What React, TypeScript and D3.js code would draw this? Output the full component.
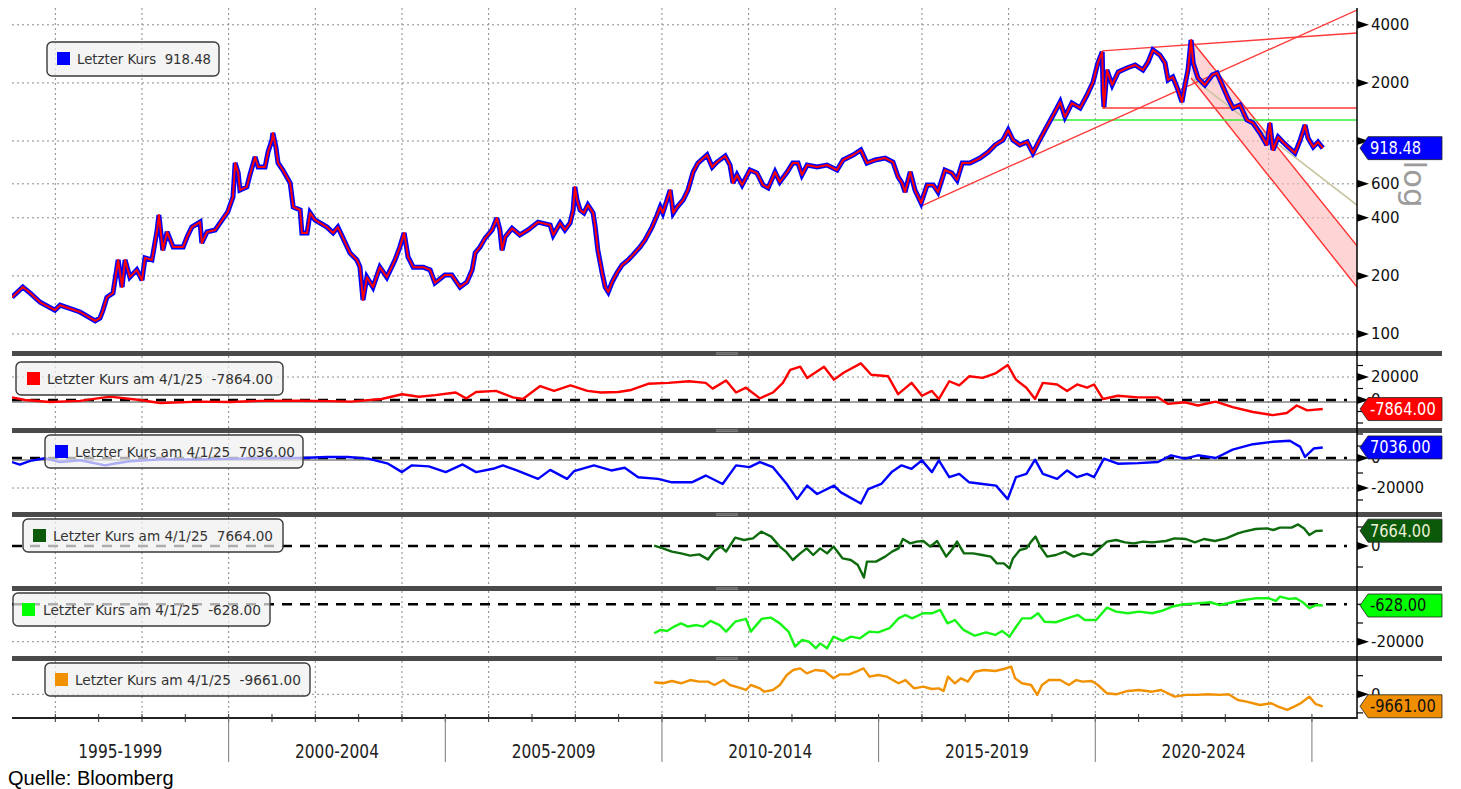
import React from 'react';
import * as d3 from 'd3';

// ---------------- data ----------------
const priceYears = [
  1995.00, 1995.25, 1995.42, 1995.65, 1995.99, 1996.11, 1996.57, 1996.92, 1997.03, 1997.10,
  1997.19, 1997.33, 1997.45, 1997.54, 1997.61, 1997.72, 1997.88, 1998.00, 1998.07, 1998.23,
  1998.35, 1998.39, 1998.48, 1998.58, 1998.72, 1998.95, 1999.04, 1999.15, 1999.34, 1999.38,
  1999.50, 1999.69, 1999.85, 1999.98, 2000.10, 2000.15, 2000.22, 2000.26, 2000.42, 2000.49,
  2000.61, 2000.68, 2000.84, 2000.91, 2001.00, 2001.02, 2001.09, 2001.14, 2001.25, 2001.42,
  2001.49, 2001.65, 2001.69, 2001.81, 2001.88, 2001.99, 2002.27, 2002.41, 2002.52, 2002.64,
  2002.80, 2002.96, 2003.03, 2003.10, 2003.19, 2003.33, 2003.49, 2003.65, 2003.84, 2003.95,
  2004.05, 2004.14, 2004.26, 2004.49, 2004.65, 2004.76, 2004.99, 2005.15, 2005.34, 2005.50,
  2005.62, 2005.69, 2005.80, 2005.92, 2006.08, 2006.19, 2006.26, 2006.31, 2006.38, 2006.54,
  2006.72, 2006.91, 2007.14, 2007.42, 2007.49, 2007.65, 2007.76, 2007.88, 2007.95, 2007.99,
  2008.04, 2008.11, 2008.20, 2008.29, 2008.41, 2008.46, 2008.52, 2008.62, 2008.69, 2008.76,
  2008.85, 2008.96, 2009.08, 2009.22, 2009.33, 2009.49, 2009.61, 2009.77, 2009.89, 2009.96,
  2010.02, 2010.19, 2010.26, 2010.35, 2010.49, 2010.60, 2010.72, 2010.83, 2011.04, 2011.16,
  2011.27, 2011.46, 2011.57, 2011.64, 2011.73, 2011.85, 2012.03, 2012.19, 2012.33, 2012.45,
  2012.61, 2012.72, 2012.89, 2013.02, 2013.14, 2013.23, 2013.35, 2013.58, 2013.81, 2014.04,
  2014.18, 2014.41, 2014.59, 2014.73, 2014.92, 2015.15, 2015.33, 2015.45, 2015.54, 2015.61,
  2015.73, 2015.84, 2015.98, 2016.12, 2016.26, 2016.37, 2016.53, 2016.69, 2016.81, 2016.93,
  2017.11, 2017.34, 2017.53, 2017.69, 2017.87, 2017.99, 2018.10, 2018.26, 2018.43, 2018.56,
  2018.68, 2018.84, 2019.03, 2019.19, 2019.30, 2019.46, 2019.65, 2019.81, 2019.95, 2020.06,
  2020.16, 2020.18, 2020.20, 2020.27, 2020.39, 2020.53, 2020.73, 2020.92, 2021.10, 2021.22,
  2021.33, 2021.49, 2021.61, 2021.68, 2021.79, 2021.91, 2022.00, 2022.07, 2022.14, 2022.21,
  2022.26, 2022.37, 2022.53, 2022.70, 2022.81, 2022.95, 2023.06, 2023.18, 2023.34, 2023.50,
  2023.64, 2023.80, 2023.96, 2024.03, 2024.10, 2024.22, 2024.33, 2024.45, 2024.61, 2024.73,
  2024.84, 2024.91, 2025.03, 2025.14, 2025.25,
];
const priceValues = [
  155, 175, 163, 146, 133, 141, 130, 117, 121, 133,
  155, 163, 242, 175, 242, 197, 215, 190, 248, 242,
  346, 414, 272, 338, 282, 282, 318, 358, 380, 296,
  338, 346, 390, 429, 513, 769, 683, 557, 578, 667,
  826, 733, 733, 877, 1012, 1100, 931, 769, 707, 606,
  455, 439, 334, 334, 424, 390, 358, 334, 358, 314,
  263, 242, 222, 150, 197, 175, 222, 197, 242, 282,
  334, 251, 222, 222, 215, 184, 202, 202, 175, 186,
  215, 263, 282, 314, 346, 399, 346, 272, 318, 353,
  326, 346, 380, 367, 326, 376, 346, 376, 439, 578,
  495, 439, 424, 466, 424, 358, 272, 207, 175, 165,
  186, 207, 228, 242, 257, 282, 307, 358, 414, 455,
  424, 557, 424, 455, 495, 557, 691, 769, 846, 733,
  778, 836, 751, 606, 667, 592, 707, 683, 592, 571,
  691, 613, 691, 769, 769, 667, 751, 733, 751, 707,
  797, 846, 898, 769, 797, 816, 778, 651, 606, 544,
  691, 557, 477, 592, 592, 544, 707, 683, 628, 769,
  769, 816, 877, 954, 1012, 1140, 1012, 954, 988, 866,
  977, 1140, 1363, 1592, 1332, 1573, 1483, 1731, 2022, 2536,
  2892, 1773, 1501, 2333, 1951, 2278, 2389, 2476, 2333, 2567,
  2961, 2790, 2536, 2071, 2146, 1838, 1592, 1951, 2333, 3337,
  2536, 2120, 1951, 2198, 2251, 1905, 1670, 1483, 1537, 1285,
  1240, 1100, 954, 1240, 898, 1049, 988, 931, 866, 1012,
  1210, 1036, 931, 988, 918.48,
];

const redYears = [
  1995.00, 1995.30, 1995.88, 1996.57, 1997.26, 1997.95, 1998.42, 1999.34, 2000.03, 2000.72,
  2001.65, 2002.34, 2002.82, 2003.53, 2004.00, 2004.39, 2004.77, 2005.24, 2005.48, 2005.71,
  2006.17, 2006.56, 2006.79, 2007.19, 2007.51, 2007.89, 2008.28, 2008.59, 2008.99, 2009.29,
  2009.68, 2010.15, 2010.62, 2011.01, 2011.17, 2011.48, 2011.71, 2011.94, 2012.26, 2012.56,
  2012.79, 2012.96, 2013.19, 2013.35, 2013.74, 2013.97, 2014.20, 2014.59, 2014.83, 2015.22,
  2015.45, 2015.76, 2016.00, 2016.23, 2016.39, 2016.63, 2016.86, 2017.09, 2017.40, 2017.71,
  2017.98, 2018.17, 2018.41, 2018.61, 2018.79, 2019.12, 2019.35, 2019.58, 2019.81, 2019.97,
  2020.18, 2020.52, 2020.99, 2021.45, 2021.68, 2022.07, 2022.37, 2022.78, 2023.17, 2023.64,
  2024.10, 2024.42, 2024.65, 2024.89, 2025.25,
];
const redValues = [
  2300, 0, -1700, -800, 2900, 0, -2600, -1400, -1700, -800,
  -600, -1000, -1400, 850, 5000, 2800, 4200, 6500, 1400, 7000,
  7900, 2250, 850, 12100, 7900, 12700, 7900, 6500, 7000, 8700,
  14100, 14900, 16300, 14900, 9900, 16900, 6500, 10700, 1400, 6500,
  14900, 26200, 29000, 19200, 29000, 17700, 23900, 31800, 22000, 20600,
  5100, 14900, 3700, 7900, 850, 16300, 12700, 20600, 19200, 23400,
  30400, 17700, 10700, 850, 14900, 13500, 7900, 13500, 10700, 13500,
  850, 3700, 2250, 2250, -3400, -2000, -4800, -1400, -6200, -10400,
  -13200, -11300, -4800, -9000, -7864,
];

const blueYears = [
  1995.00, 1995.18, 1995.42, 1995.76, 1996.11, 1996.57, 1997.15, 1997.38, 1997.72, 1998.42,
  1999.34, 2000.26, 2001.19, 2001.66, 2002.28, 2002.75, 2003.22, 2003.68, 2004.00, 2004.23,
  2004.62, 2005.01, 2005.40, 2005.71, 2006.10, 2006.33, 2006.65, 2007.14, 2007.42, 2007.81,
  2007.97, 2008.43, 2008.83, 2009.14, 2009.45, 2009.91, 2010.23, 2010.69, 2011.01, 2011.40,
  2011.71, 2012.02, 2012.26, 2012.56, 2012.88, 2013.12, 2013.35, 2013.58, 2013.97, 2014.13,
  2014.59, 2014.76, 2015.06, 2015.30, 2015.53, 2015.76, 2016.00, 2016.23, 2016.39, 2016.63,
  2016.86, 2017.09, 2017.40, 2017.71, 2017.98, 2018.17, 2018.41, 2018.61, 2018.79, 2019.12,
  2019.35, 2019.58, 2019.81, 2019.97, 2020.20, 2020.52, 2020.99, 2021.45, 2021.75, 2022.07,
  2022.37, 2022.78, 2023.17, 2023.64, 2024.10, 2024.49, 2024.73, 2024.84, 2025.04, 2025.25,
];
const blueValues = [
  -2700, -4400, -1900, -200, -2700, -1500, -4900, -3700, -2200, -900,
  -900, -400, 0, 0, 700, 700, -450, -3800, -9400, -4900,
  -5600, -9400, -4300, -9400, -7200, -4900, -8300, -13900, -7900, -13900,
  -8800, -4900, -8300, -6500, -12800, -13900, -16200, -16200, -11700, -17300,
  -4900, -6100, -2700, -6100, -17300, -27400, -18400, -24000, -18400, -22900,
  -30300, -20700, -17300, -9400, -4900, -7200, -1600, -9400, -1600, -12800,
  -10600, -16200, -17300, -18400, -27400, -12800, -10600, -1100, -10600, -13900,
  -8300, -12800, -10600, -12800, -450, -3800, -3400, -2700, 1800, -450,
  1800, 0, 5600, 9200, 10800, 11500, 7400, 700, 6300, 7036,
];

const greenYears = [
  2009.82, 2010.02, 2010.23, 2010.44, 2010.65, 2010.86, 2011.06, 2011.21, 2011.36, 2011.48,
  2011.69, 2011.89, 2012.10, 2012.29, 2012.52, 2012.72, 2012.86, 2013.02, 2013.19, 2013.34,
  2013.49, 2013.65, 2013.81, 2013.96, 2014.17, 2014.36, 2014.52, 2014.66, 2014.73, 2014.94,
  2015.15, 2015.31, 2015.46, 2015.56, 2015.73, 2015.88, 2016.03, 2016.19, 2016.35, 2016.56,
  2016.71, 2016.81, 2016.97, 2017.18, 2017.39, 2017.59, 2017.73, 2017.89, 2018.02, 2018.10,
  2018.26, 2018.41, 2018.52, 2018.62, 2018.73, 2018.89, 2019.09, 2019.30, 2019.50, 2019.71,
  2019.92, 2020.06, 2020.27, 2020.48, 2020.69, 2020.89, 2021.10, 2021.31, 2021.63, 2021.83,
  2022.09, 2022.30, 2022.51, 2022.76, 2023.02, 2023.29, 2023.43, 2023.70, 2023.96, 2024.11,
  2024.26, 2024.53, 2024.68, 2024.82, 2024.94, 2025.09, 2025.25,
];
const greenValues = [
  170, -1200, -2800, -3700, -4800, -4200, -6700, -2500, -300, -2800,
  4200, 3000, 3800, 7200, 4700, -300, -2800, -7000, -3700, -1200,
  -4500, -1200, -3700, -300, -6200, -7000, -9500, -15800, -7800, -7800,
  -5300, -2800, -1200, 3500, 1300, 2200, 2500, -300, 2500, -5300,
  -1200, 2200, -3700, -3700, -4500, -5300, -8700, -8700, -11200, -6200,
  -2000, -1200, 2200, 4700, -300, -5300, -4500, -2800, -5300, -3700,
  -4500, -2000, 2200, 3000, 1800, 1300, 2200, 1800, 2500, 3800,
  3500, 1800, 3500, 2500, 3800, 6300, 7200, 8500, 8800, 8000,
  9200, 9200, 10800, 8800, 5500, 7500, 7664,
];

const limeYears = [
  2009.82, 2009.97, 2010.12, 2010.28, 2010.44, 2010.60, 2010.80, 2010.95, 2011.12, 2011.33,
  2011.48, 2011.69, 2011.94, 2012.05, 2012.30, 2012.51, 2012.72, 2012.92, 2013.07, 2013.23,
  2013.39, 2013.55, 2013.65, 2013.81, 2013.96, 2014.17, 2014.36, 2014.57, 2014.79, 2014.99,
  2015.25, 2015.46, 2015.62, 2015.77, 2016.03, 2016.23, 2016.42, 2016.59, 2016.76, 2016.96,
  2017.22, 2017.48, 2017.69, 2017.85, 2018.02, 2018.15, 2018.31, 2018.52, 2018.68, 2018.83,
  2019.09, 2019.35, 2019.60, 2019.76, 2020.02, 2020.27, 2020.48, 2020.75, 2021.01, 2021.31,
  2021.52, 2021.78, 2022.04, 2022.35, 2022.66, 2022.87, 2023.18, 2023.43, 2023.70, 2024.01,
  2024.17, 2024.26, 2024.47, 2024.63, 2024.79, 2024.94, 2025.09, 2025.25,
];
const limeValues = [
  -15500, -13700, -14300, -11900, -10200, -11900, -11100, -11900, -8900, -11100,
  -14600, -9300, -7800, -14600, -7800, -7100, -10200, -14600, -22600, -19100,
  -20000, -23500, -20900, -23500, -17300, -19600, -17300, -18200, -14600, -15000,
  -12800, -7500, -5700, -7500, -4800, -4800, -3000, -10200, -8400, -13700,
  -16800, -15000, -16400, -14300, -17300, -12800, -7500, -7500, -4800, -9300,
  -9600, -7500, -5700, -8400, -8400, -1800, -3900, -4800, -3900, -4800,
  -3600, -1200, 0, 500, 1100, -400, 1100, 2300, 3200, 3200,
  1800, 4100, 2900, 3200, 1100, -2100, -400, -628,
];

const orangeYears = [
  2009.82, 2010.02, 2010.23, 2010.44, 2010.65, 2010.86, 2011.06, 2011.21, 2011.42, 2011.57,
  2011.78, 2011.94, 2012.05, 2012.26, 2012.36, 2012.56, 2012.72, 2012.88, 2013.03, 2013.19,
  2013.34, 2013.54, 2013.75, 2013.96, 2014.11, 2014.32, 2014.48, 2014.65, 2014.79, 2014.99,
  2015.19, 2015.46, 2015.62, 2015.82, 2016.03, 2016.23, 2016.39, 2016.50, 2016.60, 2016.76,
  2016.90, 2017.06, 2017.22, 2017.43, 2017.69, 2017.89, 2018.06, 2018.15, 2018.31, 2018.52,
  2018.66, 2018.77, 2018.93, 2019.19, 2019.39, 2019.56, 2019.71, 2019.92, 2020.06, 2020.27,
  2020.48, 2020.75, 2021.01, 2021.31, 2021.52, 2021.83, 2022.09, 2022.35, 2022.60, 2022.87,
  2023.08, 2023.29, 2023.49, 2023.80, 2024.06, 2024.22, 2024.43, 2024.59, 2024.74, 2024.94,
  2025.09, 2025.25,
];
const orangeValues = [
  9700, 8900, 10700, 8900, 11500, 10200, 10200, 7500, 11500, 7500,
  5400, 3500, 7500, 4800, 2100, 3500, 7500, 15600, 19600, 20900,
  16900, 19600, 18800, 12900, 16100, 16100, 18200, 20900, 14200, 15600,
  14200, 8900, 11500, 4800, 6200, 4300, 4800, 2700, 14200, 8900,
  12900, 10200, 18200, 19600, 18800, 20400, 22300, 12900, 8900, 7500,
  -500, 7500, 11500, 11500, 7500, 11500, 10200, 10700, 7500, 800,
  0, 2700, 3500, 2100, 3500, -1900, -500, -500, 0, -500,
  0, -4600, -5900, -8600, -7200, -9900, -12600, -9900, -7200, -1900,
  -8000, -9661,
];

// price-panel axis ticks and annotation lines (time, price)
const mainTicks = [4000, 2000, 1000, 600, 400, 200, 100];
const mainTickLabels = [4000, 2000, 600, 400, 200, 100];
const gridYears = [1996, 1998, 2000, 2002, 2004, 2006, 2008, 2010, 2012, 2014, 2016, 2018, 2020, 2022, 2024];
const periodBounds = [1995, 2000, 2005, 2010, 2015, 2020, 2025];
const periodLabels = ['1995-1999', '2000-2004', '2005-2009', '2010-2014', '2015-2019', '2020-2024'];
const redTrendStarts = [[2015.98, 460], [2020.16, 2930], [2020.16, 1483]];
const redTrendEnds = [[2026.04, 4770], [2026.04, 3630], [2026.04, 1483]];
const greenLevel = [[2019.02, 1285], [2026.04, 1285]];
const channelUpper = [[2022.21, 3337], [2026.04, 286]];
const channelLower = [[2022.21, 2120], [2026.04, 175]];
const tanLine = [[2022.26, 2100], [2026.04, 466]];
const lastPrice = 918.48;
const lastDate = '4/1/25';

// ---------------- drawing ----------------
const FONT = "'DejaVu Sans', Verdana, sans-serif";
const PX0 = 12;
const PX1 = 1357;

function tagWidth(s: string, size: number) {
  let w = 0;
  for (const c of s) w += c === '.' ? 0.318 : c === '-' ? 0.361 : 0.636;
  return w * size * 0.86;
}

function Tag({ cy, fill, color, label }: { cy: number; fill: string; color: string; label: string }) {
  const h = 23;
  const pts = `1360,${cy} 1368,${cy - h / 2} 1442,${cy - h / 2} 1442,${cy + h / 2} 1368,${cy + h / 2}`;
  return (
    <g>
      <polygon points={pts} fill={fill} stroke="#222" strokeWidth={0.8} />
      <text x={1370} y={cy + 6} fontSize={17} fontFamily={FONT} fill={color}
        textLength={tagWidth(label, 17)} lengthAdjust="spacingAndGlyphs">{label}</text>
    </g>
  );
}

function Legend({ x, y, w, h, sq, tx, tl, color, label }: any) {
  return (
    <g>
      <rect x={x} y={y} width={w} height={h} rx={5} fill="#f0f0f0" fillOpacity={0.72} stroke="#3a3a3a" strokeWidth={1.4} />
      <rect x={sq} y={y + 10} width={13} height={13} fill={color} />
      <text x={tx} y={y + 22} fontSize={14} fontFamily={FONT} fill="#333" style={{ whiteSpace: 'pre' }}
        textLength={tl} lengthAdjust="spacingAndGlyphs">{label}</text>
    </g>
  );
}

export default function App() {
  const x = d3.scaleLinear().domain([1995, 2026.04]).range([PX0, PX1]);
  const yMain = d3.scaleLog().domain([100, 4000]).range([334, 24.8]);

  const priceData = priceYears.map((t, i) => [t, priceValues[i]] as [number, number]);
  const mainLine = d3.line<[number, number]>().x(d => x(d[0])).y(d => yMain(d[1]));

  const subPanels = [
    { id: 'p2', years: redYears, values: redValues, color: '#ff0000', top: 356, bottom: 428,
      y: d3.scaleLinear().domain([0, 20000]).range([400, 377]), majors: [20000, 0], minors: [30000, 10000, -10000, -20000],
      grid: [20000], solidZero: true, dashed: true, tagFill: '#ff0000', tagText: '#ffffff', sq: '#ff0000',
      lg: { x: 16, y: 362, w: 267, h: 33, sq: 27, tx: 47, tl: 226 } },
    { id: 'p3', years: blueYears, values: blueValues, color: '#0000ff', top: 433, bottom: 512,
      y: d3.scaleLinear().domain([0, -20000]).range([458, 488]), majors: [0, -20000], minors: [16000, 8000, -10000, -28000],
      grid: [-20000], solidZero: true, dashed: true, tagFill: '#0000ff', tagText: '#ffffff', sq: '#0000ff',
      lg: { x: 45, y: 435, w: 258, h: 33, sq: 55, tx: 75, tl: 220 } },
    { id: 'p4', years: greenYears, values: greenValues, color: '#0d6a0d', top: 517, bottom: 586,
      y: d3.scaleLinear().domain([0, 10000]).range([546, 526]), majors: [0], minors: [9500, -10500],
      grid: [], solidZero: false, dashed: true, tagFill: '#0a5a0a', tagText: '#eef2d8', sq: '#0a5a0a',
      lg: { x: 23, y: 519, w: 260, h: 33, sq: 33, tx: 53, tl: 220 } },
    { id: 'p5', years: limeYears, values: limeValues, color: '#16f516', top: 591, bottom: 656,
      y: d3.scaleLinear().domain([0, -20000]).range([604.3, 641.7]), majors: [-20000], minors: [0, -10000],
      grid: [-20000], solidZero: false, dashed: true, tagFill: '#00ff00', tagText: '#111', sq: '#00ff00',
      lg: { x: 13, y: 593, w: 257, h: 33, sq: 22, tx: 43, tl: 218 } },
    { id: 'p6', years: orangeYears, values: orangeValues, color: '#f29100', top: 661, bottom: 718,
      y: d3.scaleLinear().domain([0, 20000]).range([694.3, 669.5]), majors: [0], minors: [15000, -15000],
      grid: [0], solidZero: false, dashed: false, tagFill: '#ef8e00', tagText: '#111', sq: '#f29100',
      lg: { x: 45, y: 663, w: 265, h: 33, sq: 55, tx: 75, tl: 226 } },
  ];

  const bars = [351, 428, 512, 586, 656];
  const line2 = (pts: number[][]) => `M${x(pts[0][0])},${yMain(pts[0][1])}L${x(pts[1][0])},${yMain(pts[1][1])}`;
  const channelPath = `M${x(channelUpper[0][0])},${yMain(channelUpper[0][1])}L${x(channelUpper[1][0])},${yMain(channelUpper[1][1])}` +
    `L${x(channelLower[1][0])},${yMain(channelLower[1][1])}L${x(channelLower[0][0])},${yMain(channelLower[0][1])}Z`;

  const yearTicks = d3.range(1996, 2026);

  return (
    <svg width={1461} height={789} style={{ position: 'absolute', left: 0, top: 0, display: 'block' }} fontFamily={FONT}>
      <defs>
        <clipPath id="clipMain"><rect x={PX0} y={8} width={PX1 - PX0} height={343} /></clipPath>
        {subPanels.map(p => (
          <clipPath key={p.id} id={`clip-${p.id}`}><rect x={PX0} y={p.top} width={PX1 - PX0} height={p.bottom - p.top} /></clipPath>
        ))}
      </defs>
      <rect x={0} y={0} width={1461} height={789} fill="#ffffff" />

      {/* ---------- main price panel ---------- */}
      <g>
        {mainTicks.map(t => (
          <line key={t} x1={PX0} x2={PX1} y1={yMain(t)} y2={yMain(t)} stroke="#8a8a8a" strokeDasharray="2,3" />
        ))}
        {gridYears.map(g => (
          <line key={g} x1={x(g)} x2={x(g)} y1={8} y2={351} stroke="#8a8a8a" strokeDasharray="2,3" />
        ))}
        <g clipPath="url(#clipMain)">
          <path d={channelPath} fill="#ffb8b8" fillOpacity={0.6} />
          <path d={line2(channelUpper)} stroke="#ff3030" strokeWidth={1.4} fill="none" />
          <path d={line2(channelLower)} stroke="#ff3030" strokeWidth={1.4} fill="none" />
          <path d={line2(tanLine)} stroke="#c8c4a0" strokeWidth={1.6} fill="none" />
          <path d={line2(greenLevel)} stroke="#33ee33" strokeWidth={1.6} fill="none" />
          {redTrendStarts.map((s, i) => (
            <path key={i} d={line2([s, redTrendEnds[i]])} stroke="#ff3a3a" strokeWidth={1.4} fill="none" />
          ))}
          <path d={mainLine(priceData) || ''} fill="none" stroke="#0000ff" strokeWidth={5} strokeLinejoin="miter" strokeMiterlimit={3} />
          <path d={mainLine(priceData) || ''} fill="none" stroke="#ff0000" strokeWidth={2} strokeLinejoin="round" />
        </g>
        <Legend x={47} y={42} w={172} h={34} sq={57} tx={77} tl={134} color="#0000ff"
          label={`Letzter Kurs  ${lastPrice.toFixed(2)}`} />
      </g>

      {/* ---------- lower panels ---------- */}
      {subPanels.map(p => {
        const data = p.years.map((t, i) => [t, p.values[i]] as [number, number]);
        const ln = d3.line<[number, number]>().x(d => x(d[0])).y(d => p.y(d[1]));
        const last = p.values[p.values.length - 1];
        return (
          <g key={p.id}>
            {gridYears.map(g => (
              <line key={g} x1={x(g)} x2={x(g)} y1={p.top} y2={p.bottom} stroke="#8a8a8a" strokeDasharray="2,3" />
            ))}
            {p.grid.map(gv => (
              <line key={gv} x1={PX0} x2={PX1} y1={p.y(gv)} y2={p.y(gv)} stroke="#8a8a8a" strokeDasharray="2,3" />
            ))}
            {p.solidZero && <line x1={PX0} x2={PX1} y1={p.y(0) + 2} y2={p.y(0) + 2} stroke="#444" strokeWidth={1} />}
            {p.dashed && <line x1={PX0} x2={1347} y1={p.y(0)} y2={p.y(0)} stroke="#000" strokeWidth={2.4} strokeDasharray="10,8" />}
            <g clipPath={`url(#clip-${p.id})`}>
              <path d={ln(data) || ''} fill="none" stroke={p.color} strokeWidth={2.4} strokeLinejoin="round" />
            </g>
            <Legend {...p.lg} color={p.sq} label={`Letzter Kurs am ${lastDate}  ${last.toFixed(2)}`} />
          </g>
        );
      })}

      {/* ---------- panel separators ---------- */}
      {bars.map(b => (
        <g key={b}>
          <rect x={PX0} y={b} width={1442 - PX0} height={5} fill="#4a4a4a" />
          <line x1={716} x2={738} y1={b + 1.8} y2={b + 1.8} stroke="#9a9a9a" strokeWidth={0.8} />
          <line x1={716} x2={738} y1={b + 3.3} y2={b + 3.3} stroke="#9a9a9a" strokeWidth={0.8} />
        </g>
      ))}

      {/* ---------- right axis ---------- */}
      <line x1={PX1} x2={PX1} y1={8} y2={719} stroke="#000" strokeWidth={1.5} />
      {mainTicks.map(t => (
        <polygon key={t} points={`${PX1},${yMain(t) - 4} ${PX1 + 12},${yMain(t)} ${PX1},${yMain(t) + 4}`} fill="#000" />
      ))}
      {mainTickLabels.map(t => (
        <text key={t} x={1371} y={yMain(t)} dy="0.36em" fontSize={15} fill="#111">{t}</text>
      ))}
      <text transform="translate(1415,184) rotate(90)" textAnchor="middle" dy="0.35em" fontSize={31} fill="#9c9c9c">log</text>
      {subPanels.map(p => (
        <g key={p.id}>
          {p.minors.map(m => (
            <line key={m} x1={PX1} x2={PX1 + 6} y1={p.y(m)} y2={p.y(m)} stroke="#000" strokeWidth={1.2} />
          ))}
          {p.majors.map(m => (
            <g key={m}>
              <polygon points={`${PX1},${p.y(m) - 4} ${PX1 + 12},${p.y(m)} ${PX1},${p.y(m) + 4}`} fill="#000" />
              <text x={1371} y={p.y(m)} dy="0.36em" fontSize={15} fill="#111">{m}</text>
            </g>
          ))}
        </g>
      ))}

      {/* ---------- value tags ---------- */}
      <Tag cy={yMain(lastPrice)} fill="#0000ff" color="#ffffff" label={lastPrice.toFixed(2)} />
      {subPanels.map(p => {
        const last = p.values[p.values.length - 1];
        return <Tag key={p.id} cy={p.y(last)} fill={p.tagFill} color={p.tagText} label={last.toFixed(2)} />;
      })}

      {/* ---------- time axis ---------- */}
      <line x1={PX0} x2={PX1} y1={718} y2={718} stroke="#222" strokeWidth={1.8} />
      {yearTicks.map(t => (
        <line key={t} x1={x(t)} x2={x(t)} y1={714} y2={722} stroke="#333" strokeWidth={1} />
      ))}
      {periodBounds.slice(1).map(b => (
        <line key={b} x1={x(b)} x2={x(b)} y1={718} y2={762} stroke="#7a7a7a" strokeWidth={1} />
      ))}
      {periodLabels.map((lab, i) => {
        const cx = (Math.max(x(periodBounds[i]), PX0) + x(periodBounds[i + 1])) / 2;
        return (
          <text key={lab} x={cx} y={758} textAnchor="middle" fontSize={19} fill="#222"
            textLength={84} lengthAdjust="spacingAndGlyphs">{lab}</text>
        );
      })}
      <text x={8} y={785} fontSize={20} fontFamily="'Liberation Sans', Arial, sans-serif" fill="#000">Quelle: Bloomberg</text>
    </svg>
  );
}
